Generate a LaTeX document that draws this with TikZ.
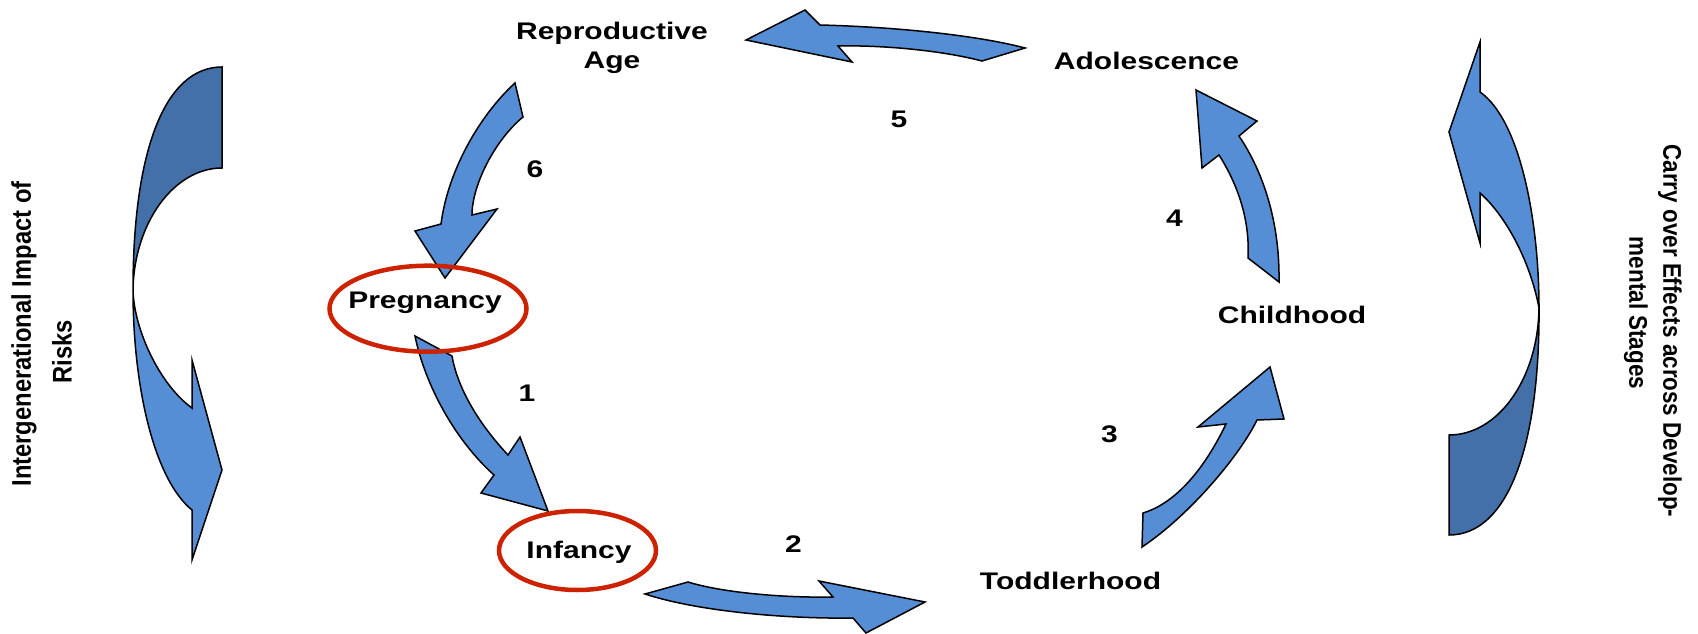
\documentclass[tikz,border=0pt]{standalone}
\usepackage{fontspec}
\newfontfamily\labfont[FakeStretch=1.25]{Liberation Sans}
\newfontfamily\sidefont[FakeStretch=0.88]{Liberation Sans}
\definecolor{arrowlight}{RGB}{85,142,213}
\definecolor{arrowdark}{RGB}{67,112,168}
\definecolor{ringred}{RGB}{204,34,0}
\begin{document}
\begin{tikzpicture}[x=1pt,y=-1pt,
  blockarrow/.style={fill=arrowlight, draw=black, line width=1.5pt, line join=miter},
  backband/.style={fill=arrowdark, draw=black, line width=1.5pt, line join=miter},
  stage/.style={font=\labfont\bfseries\fontsize{24}{29}\selectfont, inner sep=0pt, align=center},
  num/.style={font=\labfont\bfseries\fontsize{24}{29}\selectfont, inner sep=0pt, anchor=base},
  ring/.style={draw=ringred, line width=4.5pt},
  side/.style={font=\sidefont\bfseries\fontsize{27}{38}\selectfont, inner sep=0pt},
  sideR/.style={font=\sidefont\bfseries\fontsize{25.5}{34}\selectfont, inner sep=0pt}]
\useasboundingbox (0,0) rectangle (1698,634);

% ---- block arrows of the cycle ----
% 6: Reproductive Age -> Pregnancy
\draw[blockarrow] (515,83) .. controls (480,115) and (448,170) .. (441,224)
  -- (415,231) -- (445,278) -- (497,209) -- (472,215)
  .. controls (472,185) and (495,140) .. (523,117) -- cycle;
% 1: Pregnancy -> Infancy
\draw[blockarrow] (415,336) .. controls (425,385) and (455,440) .. (494,475)
  -- (481,493) -- (548,511) -- (520,437) -- (508,455)
  .. controls (480,425) and (458,390) .. (452,356) -- cycle;
% 2: Infancy -> Toddlerhood
\draw[blockarrow] (645,594) -- (688,582) .. controls (720,592) and (780,598) .. (833,597)
  -- (819,581) -- (925,602) -- (866,633) -- (853,618)
  .. controls (790,619) and (700,612) .. (645,594) -- cycle;
% 3: Toddlerhood -> Childhood
\draw[blockarrow] (1142,547) -- (1143,513) .. controls (1170,505) and (1200,478) .. (1226,424)
  -- (1198,427) -- (1270,367) -- (1284,419) -- (1257,420)
  .. controls (1240,455) and (1190,515) .. (1142,547) -- cycle;
% 4: Childhood -> Adolescence
\draw[blockarrow] (1279,282) -- (1248,258) .. controls (1250,220) and (1238,185) .. (1219,155)
  -- (1202,168) -- (1196,90) -- (1257,121) -- (1239,136)
  .. controls (1262,170) and (1280,220) .. (1279,282) -- cycle;
% 5: Adolescence -> Reproductive Age
\draw[blockarrow] (1025,48) .. controls (980,36) and (900,27) .. (820,25)
  -- (805,10) -- (746,40) -- (852,62) -- (838,46)
  .. controls (880,45) and (940,50) .. (982,61) -- cycle;

% ---- side curved arrows ----
% left: intergenerational
\draw[backband] (222,67) .. controls (165,67) and (133,150) .. (133,290)
  .. controls (134,223) and (174,168) .. (222,168) -- cycle;
\draw[blockarrow] (133,290) .. controls (133,390) and (155,480) .. (192,510)
  -- (192,560) -- (222,470) -- (192,360) -- (192,408)
  .. controls (160,385) and (134,330) .. (133,290) -- cycle;
% right: carry over
\draw[backband] (1539,308) .. controls (1540,440) and (1510,535) .. (1449,535)
  -- (1449,435) .. controls (1498,435) and (1538,379) .. (1539,308) -- cycle;
\draw[blockarrow] (1480,92) .. controls (1520,120) and (1539,220) .. (1539,308)
  .. controls (1530,260) and (1505,215) .. (1480,193)
  -- (1480,243) -- (1449,132) -- (1480,42) -- cycle;

% ---- rings ----
\draw[ring] (428,308.7) ellipse [x radius=98.5, y radius=43];
\draw[ring] (577.5,550.5) ellipse [x radius=78.5, y radius=39.5];

% ---- stage labels ----
\node[stage] (repro) at (612,48) {Reproductive\\Age};
\node[stage, anchor=base] (adol) at (1146.5,69.5) {Adolescence};
\node[stage, anchor=base] (child) at (1292,323.5) {Childhood};
\node[stage, anchor=base] (toddler) at (1070.5,589) {Toddlerhood};
\node[stage, anchor=base] (infancy) at (579,558) {Infancy};
\node[stage, anchor=base] (preg) at (425,308) {Pregnancy};

% ---- step numbers ----
\node[num] (n1) at (527,401) {1};
\node[num] (n2) at (793.5,552) {2};
\node[num] (n3) at (1109.5,442) {3};
\node[num] (n4) at (1174.5,226) {4};
\node[num] (n5) at (899,127) {5};
\node[num] (n6) at (535,177) {6};

% ---- side texts ----
\node[side, rotate=90] (leftA) at (24,334) {Intergenerational Impact of};
\node[side, rotate=90] (leftB) at (62,352) {Risks};
\node[sideR, rotate=-90] (rightA) at (1670,331) {Carry over Effects across Develop-};
\node[sideR, rotate=-90] (rightB) at (1636,313) {mental Stages};
\end{tikzpicture}
\end{document}
